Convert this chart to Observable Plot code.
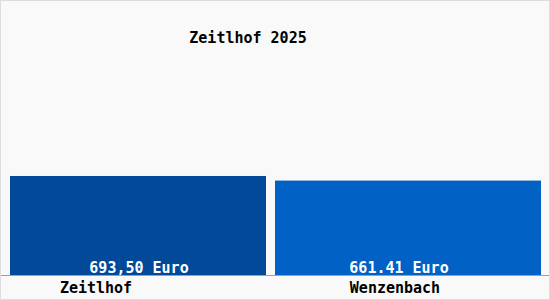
<!DOCTYPE html>
<html>
<head>
<meta charset="utf-8">
<script src="https://cdn.jsdelivr.net/npm/d3@7"></script>
<script src="https://cdn.jsdelivr.net/npm/@observablehq/plot@0.6"></script>
<style>
  body { margin: 0; background: #f9f9f9; }
  #chart svg { display: block; outline: 1px solid #dddddd; outline-offset: -1px; }
</style>
</head>
<body>
<div id="chart"></div>
<script>
const title = "Zeitlhof 2025";
const categories = ["Zeitlhof", "Wenzenbach"];
const values = [693.50, 661.41];
const valueLabels = ["693,50 Euro", "661.41 Euro"];
const colors = ["#03499a", "#0261c4"];

const data = categories.map((c, i) => ({category: c, value: values[i], label: valueLabels[i], color: colors[i]}));

const font = "'DejaVu Sans Mono', monospace";
const labelDx = [-2, -12];
const catDx = [-45, -16];
const barInsetLeft = [0, -5];
const barInsetRight = [5, 0];

const marks = [];
data.forEach((d, i) => {
  marks.push(Plot.barY([d], {x: "category", y: "value", fill: "color", insetLeft: barInsetLeft[i], insetRight: barInsetRight[i]}));
});
marks.push(Plot.ruleY([0], {stroke: "#a0a0a0", insetLeft: -10, insetRight: -9}));
marks.push(Plot.text([title], {frameAnchor: "top", lineAnchor: "middle", dy: 18, dx: -28, text: d => d, fill: "#000", fontSize: 15, fontWeight: "bold", fontFamily: font}));
data.forEach((d, i) => {
  marks.push(Plot.text([d], {x: "category", y: 0, text: "label", fill: "white", dy: -7, dx: labelDx[i], fontSize: 15, fontWeight: "bold", fontFamily: font}));
  marks.push(Plot.text([d], {x: "category", y: 0, text: "category", fill: "black", dy: 13, dx: catDx[i], fontSize: 15, fontWeight: "bold", fontFamily: font}));
});

const chart = Plot.plot({
  width: 550,
  height: 300,
  marginTop: 20,
  marginBottom: 25,
  marginLeft: 10,
  marginRight: 9,
  style: {background: "#f9f9f9"},
  x: {domain: categories, range: [10, 541], round: false, paddingInner: 0.0333, paddingOuter: 0, axis: null},
  y: {domain: [0, 1786], axis: null},
  color: {type: "identity"},
  marks
});
document.getElementById("chart").appendChild(chart);
</script>
</body>
</html>
